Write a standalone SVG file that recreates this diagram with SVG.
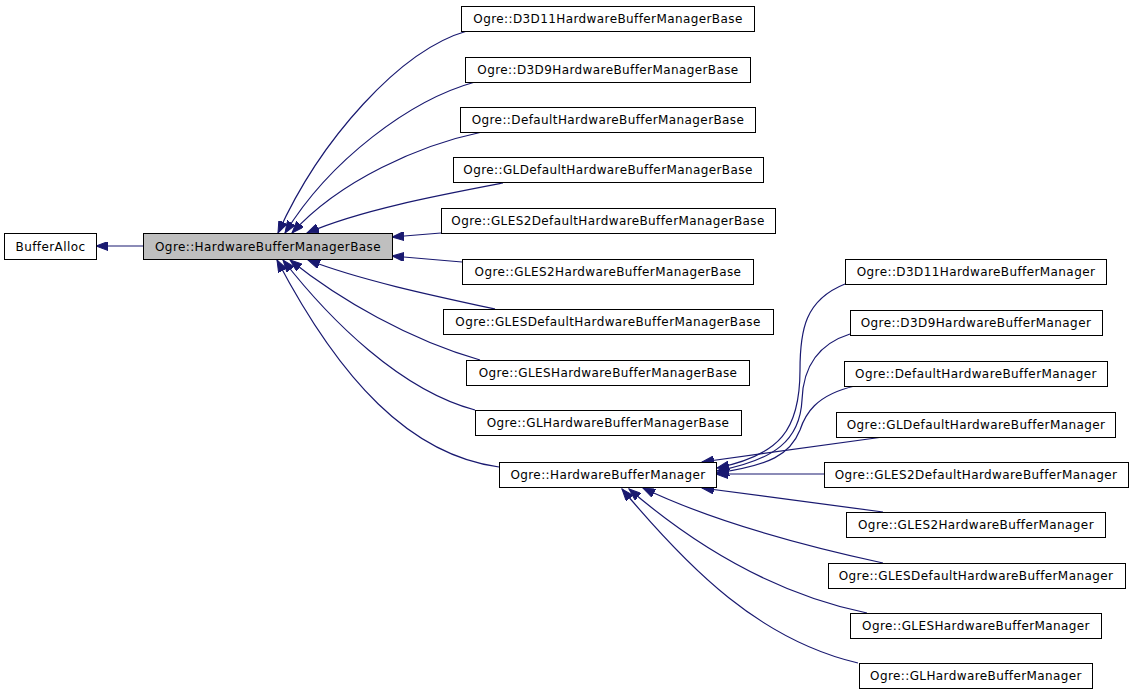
<svg xmlns="http://www.w3.org/2000/svg" width="1133" height="696" viewBox="0 0 1133 696">
<style>
.n rect{fill:#ffffff;stroke:#000000;stroke-width:1}
.n text{font-family:"DejaVu Sans",sans-serif;font-size:12px;letter-spacing:0.4px;fill:#000000;text-anchor:middle}
.e path{fill:none;stroke:#191970;stroke-width:1.2;marker-end:url(#ah)}
</style>
<defs>
<marker id="ah" markerUnits="userSpaceOnUse" markerWidth="13" markerHeight="9" refX="12" refY="4.5" orient="auto">
<path d="M0,0 L12,4.5 L0,9 z" fill="#191970" stroke="#191970"/>
</marker>
</defs>
<rect width="1133" height="696" fill="#ffffff"/>
<g id="connectors" class="e">
<path d="M143,246 L96,246"/>
<path d="M467,31 C400,50 320,140 278,233"/>
<path d="M475,82 C410,100 330,160 285,233"/>
<path d="M482,132 C420,145 340,180 292,233"/>
<path d="M503,183 C440,195 360,210 307,233"/>
<path d="M441,233 L392,237"/>
<path d="M462,262 L392,256"/>
<path d="M495,309 C430,295 360,280 308,260"/>
<path d="M480,360 C410,340 340,300 290,260"/>
<path d="M475,410 C400,390 330,320 283,260"/>
<path d="M499,467 C410,455 340,380 277,260"/>
<path d="M845,284 C805,300 800,330 800,370 C800,430 780,455 717,468"/>
<path d="M850,334 C815,345 803,370 802,400 C800,440 775,460 717,471"/>
<path d="M855,386 C815,395 805,415 800,430 C790,455 770,465 717,473"/>
<path d="M883,437 L702,462"/>
<path d="M824,474 L716,474"/>
<path d="M883,512 L702,488"/>
<path d="M883,563 C800,545 710,520 643,488"/>
<path d="M867,613 C780,595 700,550 629,489"/>
<path d="M858,663 C760,640 690,570 622,489"/>
</g>
<g id="BufferAlloc" class="n"><rect x="4.5" y="233.5" width="92" height="26"/><text x="50.5" y="250.5">BufferAlloc</text></g>
<g id="HardwareBufferManagerBase" class="n"><rect x="143.5" y="233.5" width="249" height="26" style="fill:#bfbfbf"/><text x="268" y="250.5">Ogre::HardwareBufferManagerBase</text></g>
<g id="D3D11HardwareBufferManagerBase" class="n"><rect x="461.5" y="6.5" width="293" height="25"/><text x="608" y="23">Ogre::D3D11HardwareBufferManagerBase</text></g>
<g id="D3D9HardwareBufferManagerBase" class="n"><rect x="465.5" y="57.5" width="285" height="25"/><text x="608" y="74">Ogre::D3D9HardwareBufferManagerBase</text></g>
<g id="DefaultHardwareBufferManagerBase" class="n"><rect x="460.5" y="107.5" width="295" height="25"/><text x="608" y="124">Ogre::DefaultHardwareBufferManagerBase</text></g>
<g id="GLDefaultHardwareBufferManagerBase" class="n"><rect x="453.5" y="157.5" width="310" height="25"/><text x="608" y="174">Ogre::GLDefaultHardwareBufferManagerBase</text></g>
<g id="GLES2DefaultHardwareBufferManagerBase" class="n"><rect x="441.5" y="208.5" width="334" height="25"/><text x="608" y="225">Ogre::GLES2DefaultHardwareBufferManagerBase</text></g>
<g id="GLES2HardwareBufferManagerBase" class="n"><rect x="462.5" y="259.5" width="291" height="25"/><text x="608" y="276">Ogre::GLES2HardwareBufferManagerBase</text></g>
<g id="GLESDefaultHardwareBufferManagerBase" class="n"><rect x="443.5" y="309.5" width="330" height="25"/><text x="608" y="326">Ogre::GLESDefaultHardwareBufferManagerBase</text></g>
<g id="GLESHardwareBufferManagerBase" class="n"><rect x="466.5" y="360.5" width="283" height="25"/><text x="608" y="377">Ogre::GLESHardwareBufferManagerBase</text></g>
<g id="GLHardwareBufferManagerBase" class="n"><rect x="475.5" y="410.5" width="266" height="25"/><text x="608" y="427">Ogre::GLHardwareBufferManagerBase</text></g>
<g id="HardwareBufferManager" class="n"><rect x="499.5" y="462.5" width="217" height="25"/><text x="608" y="479">Ogre::HardwareBufferManager</text></g>
<g id="D3D11HardwareBufferManager" class="n"><rect x="845.5" y="259.5" width="261" height="25"/><text x="976" y="276">Ogre::D3D11HardwareBufferManager</text></g>
<g id="D3D9HardwareBufferManager" class="n"><rect x="850.5" y="310.5" width="252" height="25"/><text x="976" y="327">Ogre::D3D9HardwareBufferManager</text></g>
<g id="DefaultHardwareBufferManager" class="n"><rect x="844.5" y="361.5" width="263" height="25"/><text x="976" y="378">Ogre::DefaultHardwareBufferManager</text></g>
<g id="GLDefaultHardwareBufferManager" class="n"><rect x="836.5" y="412.5" width="279" height="25"/><text x="976" y="429">Ogre::GLDefaultHardwareBufferManager</text></g>
<g id="GLES2DefaultHardwareBufferManager" class="n"><rect x="824.5" y="462.5" width="304" height="25"/><text x="976" y="479">Ogre::GLES2DefaultHardwareBufferManager</text></g>
<g id="GLES2HardwareBufferManager" class="n"><rect x="846.5" y="512.5" width="259" height="25"/><text x="976" y="529">Ogre::GLES2HardwareBufferManager</text></g>
<g id="GLESDefaultHardwareBufferManager" class="n"><rect x="828.5" y="563.5" width="297" height="25"/><text x="976" y="580">Ogre::GLESDefaultHardwareBufferManager</text></g>
<g id="GLESHardwareBufferManager" class="n"><rect x="850.5" y="613.5" width="251" height="25"/><text x="976" y="630">Ogre::GLESHardwareBufferManager</text></g>
<g id="GLHardwareBufferManager" class="n"><rect x="859.5" y="663.5" width="233" height="25"/><text x="976" y="680">Ogre::GLHardwareBufferManager</text></g>
</svg>
